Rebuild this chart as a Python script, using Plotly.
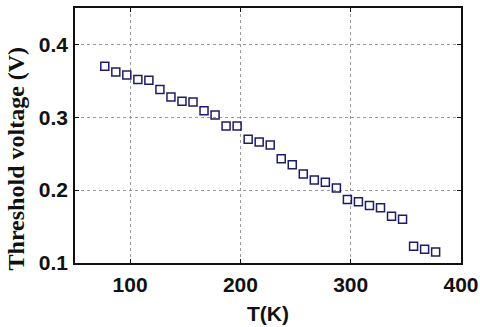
import plotly.graph_objects as go

T_K = [77, 87, 97, 107, 117, 127, 137, 147, 157, 167, 177, 187, 197, 207, 217, 227,
       237, 247, 257, 267, 277, 287, 297, 307, 317, 327, 337, 347, 357, 367, 377]
Vth = [0.370, 0.362, 0.358, 0.352, 0.351, 0.338, 0.328, 0.322, 0.321, 0.309, 0.303,
       0.288, 0.288, 0.270, 0.266, 0.262, 0.243, 0.235, 0.222, 0.214, 0.211, 0.203,
       0.187, 0.184, 0.179, 0.176, 0.164, 0.160, 0.123, 0.119, 0.115]
x_ticks = [100, 200, 300, 400]
y_ticks = [0.1, 0.2, 0.3, 0.4]
x_title = "T(K)"
y_title = "Threshold voltage (V)"

fig = go.Figure(go.Scatter(
    x=T_K, y=Vth, mode="markers",
    marker=dict(symbol="square-open", size=8, color="#1c1c6b", line=dict(width=1.5)),
))

ax = dict(showgrid=True, gridcolor="#999999", griddash="dot", gridwidth=1,
          showline=True, linecolor="#111111", linewidth=1.5, mirror="ticks",
          ticks="inside", ticklen=4, tickcolor="#111111", zeroline=False, automargin=False,
          tickfont=dict(family="Liberation Sans, Arial", size=21, color="#111111", weight="bold"))

fig.update_xaxes(range=[50, 400], tickvals=x_ticks, ticktext=[str(v) for v in x_ticks],
                 ticklabelstandoff=2, **ax)
fig.update_yaxes(range=[0.1, 0.45], tickvals=y_ticks, ticktext=[f"{v:.1f}" for v in y_ticks],
                 ticklabelstandoff=1, **ax)

fig.add_annotation(text=x_title, xref="paper", yref="paper", x=0.5, y=0, yshift=-50,
                   xanchor="center", yanchor="middle", showarrow=False,
                   font=dict(family="Liberation Sans, Arial", size=21, color="#111111", weight="bold"))
fig.add_annotation(text=y_title, xref="paper", yref="paper", x=0, y=0.41, xshift=-59,
                   xanchor="center", yanchor="middle", showarrow=False, textangle=-90,
                   font=dict(family="Liberation Serif, Times New Roman", size=24, color="#111111", weight="bold"))

fig.update_layout(width=480, height=327, margin=dict(l=75, r=19, t=8, b=64),
                  paper_bgcolor="white", plot_bgcolor="white", showlegend=False)

fig.write_html("out.html", config={"displayModeBar": False},
               post_script="document.body.style.margin='0';document.body.style.overflow='hidden';")
